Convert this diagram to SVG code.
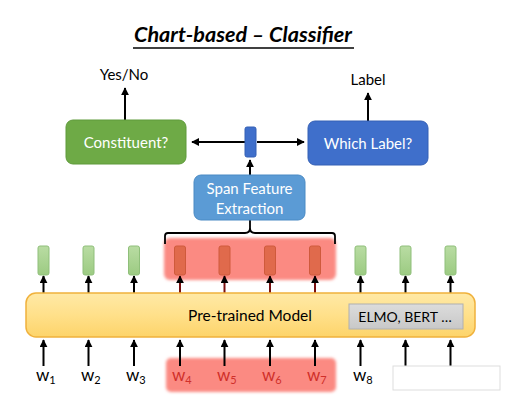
<svg xmlns="http://www.w3.org/2000/svg" width="506" height="400" viewBox="0 0 506 400">
<defs>
<style>
text{font-family:Lato,"Open Sans","Liberation Sans",sans-serif}
.t{font-size:15px;fill:#000}
.wt{font-size:15px;fill:#fff;text-anchor:middle}
.w{font-size:17px;fill:#000}
.wr{font-size:17px;fill:#d0302a}
.ln{stroke:#000;stroke-width:2;fill:none}
.g{fill:url(#gg);stroke:#8fbf7a;stroke-width:1}
.r{fill:#e06a4c;stroke:#cf5a3c;stroke-width:1}
</style>
<marker id="ah" viewBox="0 0 10 10" refX="9" refY="5" markerWidth="4" markerHeight="4" orient="auto"><path d="M0,0L10,5L0,10z" fill="#000"/></marker>
<linearGradient id="gg" x1="0" y1="0" x2="0" y2="1"><stop offset="0" stop-color="#b9dca3"/><stop offset="1" stop-color="#9ccb82"/></linearGradient>
<linearGradient id="yg" x1="0" y1="0" x2="0" y2="1"><stop offset="0" stop-color="#ffe9a6"/><stop offset="0.5" stop-color="#ffe08a"/><stop offset="1" stop-color="#fdd46a"/></linearGradient>
<linearGradient id="eg" x1="0" y1="0" x2="0" y2="1"><stop offset="0" stop-color="#dcdcdc"/><stop offset="1" stop-color="#c8c8c8"/></linearGradient>
<filter id="glow" x="-10%" y="-20%" width="120%" height="140%"><feGaussianBlur stdDeviation="1.5"/></filter>
</defs>
<rect width="506" height="400" fill="#fff"/>
<g id="title">
<text x="243" y="42" text-anchor="middle" style="font-size:21px;font-weight:bold;font-style:italic" textLength="218" lengthAdjust="spacingAndGlyphs">Chart-based – Classifier</text>
<line x1="133" y1="48" x2="354" y2="48" stroke="#000" stroke-width="1.5"/>
</g>
<g id="highlights">
<rect x="164" y="238" width="172" height="42" rx="6" fill="#fb8a82" filter="url(#glow)"/>
<rect x="166" y="358" width="170" height="34" rx="5" fill="#fb8a82" filter="url(#glow)"/>
</g>
<g id="connectors">
<line class="ln" x1="125" y1="120" x2="125" y2="88" marker-end="url(#ah)"/>
<line class="ln" x1="368" y1="121" x2="368" y2="93" marker-end="url(#ah)"/>
<line class="ln" x1="245" y1="142" x2="192" y2="142" marker-end="url(#ah)"/>
<line class="ln" x1="257" y1="142" x2="304" y2="142" marker-end="url(#ah)"/>
<line class="ln" x1="250" y1="175" x2="250" y2="160" marker-end="url(#ah)"/>
<path d="M250,220 V228 Q250,233 245,233 H168 Q165,233 165,236 V244 M250,228 Q250,233 255,233 H332 Q335,233 335,236 V244" fill="none" stroke="#000" stroke-width="1.8"/>
<g class="ln" marker-end="url(#ah)">
<line x1="43.5" y1="293" x2="43.5" y2="276"/>
<line x1="88.5" y1="293" x2="88.5" y2="276"/>
<line x1="134" y1="293" x2="134" y2="276"/>
<line x1="360.5" y1="293" x2="360.5" y2="276"/>
<line x1="405.5" y1="293" x2="405.5" y2="276"/>
<line x1="450.5" y1="293" x2="450.5" y2="276"/>
</g>
<g stroke="#7a1010" stroke-width="2" marker-end="url(#ah)">
<line x1="180" y1="293" x2="180" y2="276"/>
<line x1="224.5" y1="293" x2="224.5" y2="276"/>
<line x1="270" y1="293" x2="270" y2="276"/>
<line x1="315" y1="293" x2="315" y2="276"/>
</g>
<g class="ln" marker-end="url(#ah)">
<line x1="43.5" y1="366" x2="43.5" y2="340"/>
<line x1="88.5" y1="366" x2="88.5" y2="340"/>
<line x1="134" y1="366" x2="134" y2="340"/>
<line x1="180" y1="366" x2="180" y2="340"/>
<line x1="224.5" y1="366" x2="224.5" y2="340"/>
<line x1="270" y1="366" x2="270" y2="340"/>
<line x1="315" y1="366" x2="315" y2="340"/>
<line x1="360.5" y1="366" x2="360.5" y2="340"/>
<line x1="405.5" y1="366" x2="405.5" y2="340"/>
<line x1="450.5" y1="366" x2="450.5" y2="340"/>
</g>
</g>
<g id="yesno"><text class="t" x="124" y="80" text-anchor="middle">Yes/No</text></g>
<g id="label"><text class="t" x="368" y="85" text-anchor="middle">Label</text></g>
<g id="constituent">
<rect x="66" y="120" width="120" height="44" rx="7" fill="#6eaa46" stroke="#5e9a3a"/>
<text class="wt" x="126" y="148">Constituent?</text>
</g>
<g id="whichlabel">
<rect x="308" y="121" width="120" height="44" rx="7" fill="#3f6fcb" stroke="#3560b5"/>
<text class="wt" x="368" y="149">Which Label?</text>
</g>
<g id="spanvec">
<rect x="245" y="127" width="11" height="30" rx="2" fill="#3f6fcb" stroke="#3560b5"/>
</g>
<g id="spanfeature">
<rect x="194" y="175" width="111" height="45" rx="7" fill="#5b9bd5" stroke="#4a8ac4"/>
<text class="wt" x="249.5" y="194">Span Feature</text>
<text class="wt" x="249.5" y="214">Extraction</text>
</g>
<g id="vectors">
<rect class="g" x="38" y="246" width="11" height="29" rx="2"/>
<rect class="g" x="83" y="246" width="11" height="29" rx="2"/>
<rect class="g" x="128.5" y="246" width="11" height="29" rx="2"/>
<rect class="r" x="174.5" y="246" width="11" height="29" rx="2"/>
<rect class="r" x="219" y="246" width="11" height="29" rx="2"/>
<rect class="r" x="264.5" y="246" width="11" height="29" rx="2"/>
<rect class="r" x="309.5" y="246" width="11" height="29" rx="2"/>
<rect class="g" x="355" y="246" width="11" height="29" rx="2"/>
<rect class="g" x="400" y="246" width="11" height="29" rx="2"/>
<rect class="g" x="445" y="246" width="11" height="29" rx="2"/>
</g>
<g id="pretrained">
<rect x="26" y="293" width="449" height="44" rx="10" fill="url(#yg)" stroke="#f0b13c" stroke-width="1.5"/>
<text x="250" y="321" text-anchor="middle" style="font-size:15.5px;fill:#000">Pre-trained Model</text>
</g>
<g id="elmo">
<rect x="349" y="304" width="114" height="25" fill="url(#eg)" stroke="#b0b0b0"/>
<text x="405" y="322" text-anchor="middle" style="font-size:14px;fill:#000">ELMO, BERT …</text>
</g>
<g id="words">
<text class="w" x="36" y="381">w<tspan font-size="11" dy="3">1</tspan></text>
<text class="w" x="81" y="381">w<tspan font-size="11" dy="3">2</tspan></text>
<text class="w" x="126" y="381">w<tspan font-size="11" dy="3">3</tspan></text>
<text class="wr" x="172" y="381">w<tspan font-size="11" dy="3">4</tspan></text>
<text class="wr" x="217" y="381">w<tspan font-size="11" dy="3">5</tspan></text>
<text class="wr" x="262" y="381">w<tspan font-size="11" dy="3">6</tspan></text>
<text class="wr" x="307" y="381">w<tspan font-size="11" dy="3">7</tspan></text>
<text class="w" x="353" y="381">w<tspan font-size="11" dy="3">8</tspan></text>
</g>
<g id="watermark">
<rect x="393" y="366" width="107" height="24" fill="#fff" stroke="#ddd"/>
</g>
</svg>
